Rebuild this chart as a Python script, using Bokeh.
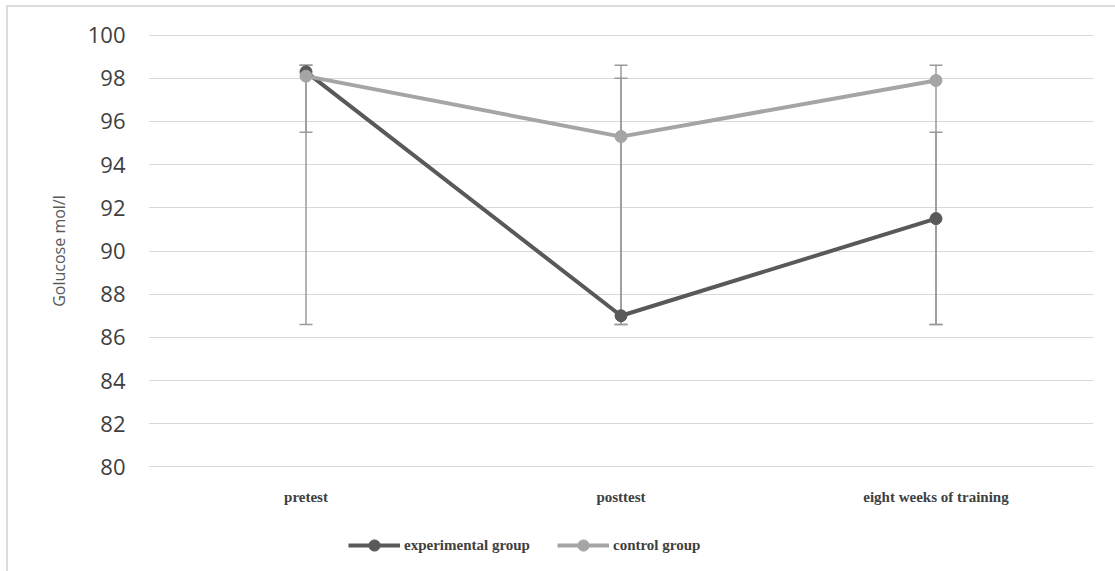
from bokeh.plotting import figure
from bokeh.layouts import column
from bokeh.models import (ColumnDataSource, FactorRange, Range1d, Whisker, TeeHead,
                          Legend, LegendItem, FixedTicker)
from bokeh.embed import file_html
from bokeh.resources import INLINE

categories = ["pretest", "posttest", "eight weeks of training"]
experimental = [98.3, 87.0, 91.5]
control = [98.1, 95.3, 97.9]
exp_err_low = [86.6, 86.6, 86.6]
exp_err_high = [98.6, 98.0, 95.5]
ctrl_err_low = [95.5, 86.6, 86.6]
ctrl_err_high = [98.6, 98.6, 98.6]
y_ticks = [80, 82, 84, 86, 88, 90, 92, 94, 96, 98, 100]

DARK = "#595959"
LIGHT = "#a5a5a5"
ERR = "#9a9a9a"
SERIF = "Liberation Serif"

p = figure(width=1115, height=507, x_range=FactorRange(*categories),
           y_range=Range1d(79.97, 100.03), output_backend="svg", toolbar_location=None,
           min_border_left=148, min_border_right=22, min_border_top=34,
           min_border_bottom=39)
p.outline_line_color = None
p.background_fill_color = "white"
p.border_fill_color = None

p.xgrid.grid_line_color = None
p.ygrid.grid_line_color = "#d9d9d9"
p.ygrid.grid_line_width = 1.2
p.yaxis.ticker = FixedTicker(ticks=y_ticks)

p.yaxis.axis_line_color = None
p.yaxis.major_tick_line_color = None
p.yaxis.minor_tick_line_color = None
p.yaxis.major_label_text_font = "Open Sans"
p.yaxis.major_label_text_font_size = "22px"
p.yaxis.major_label_text_color = "#404040"
p.yaxis.major_label_standoff = 17
p.yaxis.axis_label = "Golucose mol/l"
p.yaxis.axis_label_text_font = "Open Sans"
p.yaxis.axis_label_text_font_style = "normal"
p.yaxis.axis_label_text_font_size = "16px"
p.yaxis.axis_label_text_color = "#595959"
p.yaxis.axis_label_standoff = 15

p.xaxis.axis_line_color = None
p.xaxis.major_tick_line_color = None
p.xaxis.minor_tick_line_color = None
p.xaxis.major_label_text_font = SERIF
p.xaxis.major_label_text_font_style = "bold"
p.xaxis.major_label_text_font_size = "15px"
p.xaxis.major_label_text_color = "#404040"
p.xaxis.major_label_standoff = 15

src = ColumnDataSource(dict(x=categories, exp=experimental, ctrl=control,
                            el=exp_err_low, eh=exp_err_high,
                            cl=ctrl_err_low, ch=ctrl_err_high))

for lo, hi in (("el", "eh"), ("cl", "ch")):
    w = Whisker(base="x", lower=lo, upper=hi, source=src, line_color=ERR, line_width=1.5,
                upper_head=TeeHead(size=13, line_color=ERR, line_width=1.5),
                lower_head=TeeHead(size=13, line_color=ERR, line_width=1.5))
    p.add_layout(w)

p.line("x", "exp", source=src, line_color=DARK, line_width=4)
p.scatter("x", "exp", source=src, size=12, fill_color=DARK, line_color=DARK)
p.line("x", "ctrl", source=src, line_color=LIGHT, line_width=4)
p.scatter("x", "ctrl", source=src, size=12, fill_color=LIGHT, line_color=LIGHT)

# legend strip below the chart (same series, drawn outside its visible range)
pl = figure(width=1115, height=64, x_range=p.x_range, y_range=Range1d(0, 1),
            output_backend="svg", toolbar_location=None,
            min_border_left=0, min_border_right=0, min_border_top=0, min_border_bottom=0)
pl.axis.visible = False
pl.grid.grid_line_color = None
pl.outline_line_color = None
pl.border_fill_color = None
pl.background_fill_color = None
l1 = pl.line("x", "exp", source=src, line_color=DARK, line_width=4)
c1 = pl.scatter("x", "exp", source=src, size=12, fill_color=DARK, line_color=DARK)
l2 = pl.line("x", "ctrl", source=src, line_color=LIGHT, line_width=4)
c2 = pl.scatter("x", "ctrl", source=src, size=12, fill_color=LIGHT, line_color=LIGHT)

legend = Legend(items=[LegendItem(label="experimental group", renderers=[l1, c1]),
                       LegendItem(label="control group", renderers=[l2, c2])],
                orientation="horizontal", location=(200, 12),
                label_text_font=SERIF, label_text_font_style="bold",
                label_text_font_size="15px",
                label_text_color="#404040", glyph_width=52, glyph_height=28,
                spacing=27, label_standoff=4, border_line_color=None,
                background_fill_alpha=0, margin=0, padding=4)
pl.add_layout(legend)

chart_border = ("linear-gradient(#dcdcdc, #dcdcdc) 7px 5px / 1200px 2px no-repeat, "
                "linear-gradient(#dcdcdc, #dcdcdc) 6px 5px / 2px 1200px no-repeat, white")
layout = column(p, pl, spacing=0, styles={"background": chart_border})
open("out.html", "w").write(file_html(layout, INLINE))
